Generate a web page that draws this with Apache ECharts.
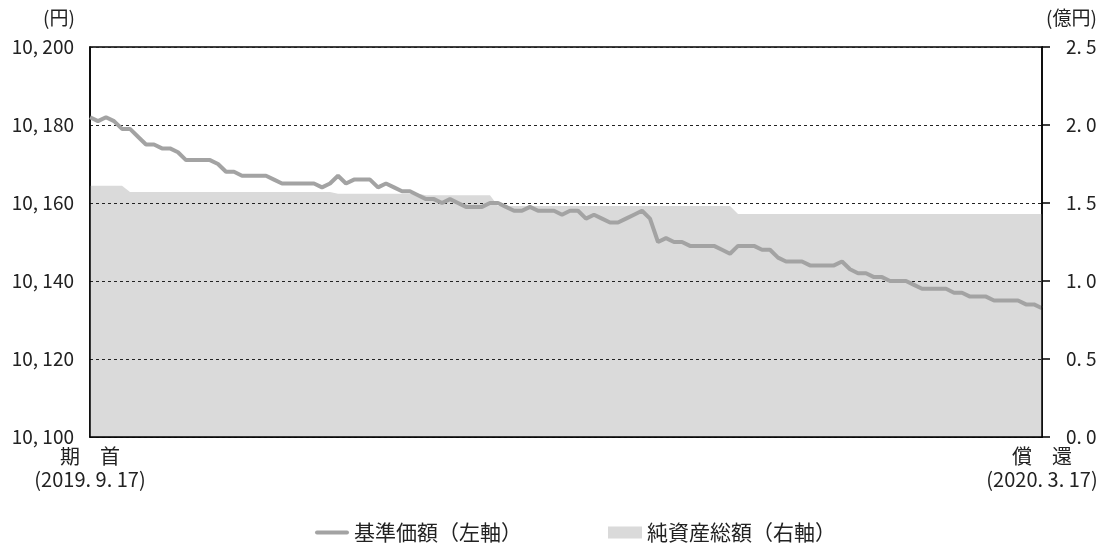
<!DOCTYPE html>
<html>
<head>
<meta charset="utf-8">
<script src="https://cdn.jsdelivr.net/npm/echarts@6/dist/echarts.min.js"></script>
<style>
  html, body { margin: 0; padding: 0; background: #fff; }
  #myChart { width: 1104px; height: 543px; }
</style>
</head>
<body>
<div id="myChart"></div>
<script>
// 基準価額 (円), daily
var nav = [
  10182, 10181, 10182, 10181, 10179, 10179, 10177, 10175, 10175, 10174,
  10174, 10173, 10171, 10171, 10171, 10171, 10170, 10168, 10168, 10167,
  10167, 10167, 10167, 10166, 10165, 10165, 10165, 10165, 10165, 10164,
  10165, 10167, 10165, 10166, 10166, 10166, 10164, 10165, 10164, 10163,
  10163, 10162, 10161, 10161, 10160, 10161, 10160, 10159, 10159, 10159,
  10160, 10160, 10159, 10158, 10158, 10159, 10158, 10158, 10158, 10157,
  10158, 10158, 10156, 10157, 10156, 10155, 10155, 10156, 10157, 10158,
  10156, 10150, 10151, 10150, 10150, 10149, 10149, 10149, 10149, 10148,
  10147, 10149, 10149, 10149, 10148, 10148, 10146, 10145, 10145, 10145,
  10144, 10144, 10144, 10144, 10145, 10143, 10142, 10142, 10141, 10141,
  10140, 10140, 10140, 10139, 10138, 10138, 10138, 10138, 10137, 10137,
  10136, 10136, 10136, 10135, 10135, 10135, 10135, 10134, 10134, 10133
];

// 純資産総額 (億円), daily
var netAssets = [
  1.61, 1.61, 1.61, 1.61, 1.61, 1.57, 1.57, 1.57, 1.57, 1.57,
  1.57, 1.57, 1.57, 1.57, 1.57, 1.57, 1.57, 1.57, 1.57, 1.57,
  1.57, 1.57, 1.57, 1.57, 1.57, 1.57, 1.57, 1.57, 1.57, 1.57,
  1.57, 1.56, 1.56, 1.56, 1.56, 1.56, 1.56, 1.56, 1.56, 1.56,
  1.56, 1.56, 1.55, 1.55, 1.55, 1.55, 1.55, 1.55, 1.55, 1.55,
  1.55, 1.48, 1.48, 1.48, 1.48, 1.48, 1.48, 1.48, 1.48, 1.48,
  1.48, 1.48, 1.48, 1.48, 1.48, 1.48, 1.48, 1.48, 1.48, 1.48,
  1.48, 1.48, 1.48, 1.48, 1.48, 1.48, 1.48, 1.48, 1.48, 1.48,
  1.48, 1.43, 1.43, 1.43, 1.43, 1.43, 1.43, 1.43, 1.43, 1.43,
  1.43, 1.43, 1.43, 1.43, 1.43, 1.43, 1.43, 1.43, 1.43, 1.43,
  1.43, 1.43, 1.43, 1.43, 1.43, 1.43, 1.43, 1.43, 1.43, 1.43,
  1.43, 1.43, 1.43, 1.43, 1.43, 1.43, 1.43, 1.43, 1.43, 1.43
];

var startLabel = "期　首\n(2019. 9. 17)";
var endLabel = "償　還\n(2020. 3. 17)";
var categories = nav.map(function (v, i) { return "d" + i; });
var seriesNames = ["基準価額（左軸）", "純資産総額（右軸）"];

var FONT = '"Noto Sans CJK JP", "Noto Sans", sans-serif';

var chartDom = document.getElementById("myChart");
var myChart = echarts.init(chartDom);
var option;

// tick labels use a spaced comma / point like the original
function fmtYen(v) {
  var s = String(v);
  return s.slice(0, s.length - 3) + ", " + s.slice(-3);
}
function fmtOku(v) {
  return v.toFixed(1).replace(".", ". ");
}

option = {
  animation: false,
  textStyle: { fontFamily: FONT },
  grid: {
    left: 90,
    right: 62,
    top: 47,
    bottom: 106,
    show: true,
    borderColor: "#000",
    borderWidth: 1.5,
    backgroundColor: "#fff",
  },
  legend: {
    top: 517,
    left: 310,
    itemWidth: 34,
    itemHeight: 12,
    itemGap: 86,
    textStyle: { fontFamily: FONT, fontSize: 21, color: "#222" },
    data: [
      {
        name: seriesNames[0],
        icon: "path://M2,0H32A2,2 0 0 1 32,4H2A2,2 0 0 1 2,0Z",
        itemStyle: { color: "#a3a3a3" },
      },
      { name: seriesNames[1], icon: "rect", itemStyle: { color: "#dadada" } },
    ],
  },
  graphic: [
    {
      type: "text",
      left: 43,
      top: 8,
      style: { text: "(円)", font: "19px " + FONT, fill: "#222" },
    },
    {
      type: "text",
      left: 1046,
      top: 8,
      style: { text: "(億円)", font: "19px " + FONT, fill: "#222" },
    },
  ],
  xAxis: {
    type: "category",
    data: categories,
    boundaryGap: false,
    z: 4,
    axisLine: { lineStyle: { color: "#000", width: 1.5 } },
    axisTick: { show: false },
    splitLine: { show: false },
    axisLabel: {
      interval: function (i) { return i === 0 || i === categories.length - 1; },
      formatter: function (v, i) {
        return i === 0 ? startLabel : endLabel;
      },
      margin: 8,
      fontSize: 20,
      lineHeight: 23,
      color: "#222",
      align: "center",
    },
  },
  yAxis: [
    {
      type: "value",
      min: 10100,
      max: 10200,
      interval: 20,
      z: 2,
      axisLine: { show: true, lineStyle: { color: "#000", width: 1.5 } },
      axisTick: { show: false },
      axisLabel: { margin: 16, fontSize: 19, color: "#222", formatter: fmtYen },
      splitLine: { lineStyle: { color: "#222", width: 1, type: [3, 3] } },
    },
    {
      type: "value",
      min: 0,
      max: 2.5,
      interval: 0.5,
      z: 4,
      axisLine: { show: true, lineStyle: { color: "#000", width: 1.5 } },
      axisTick: { show: true, inside: false, length: 8, lineStyle: { color: "#000", width: 1.5 } },
      axisLabel: { margin: 24, fontSize: 19, color: "#222", formatter: fmtOku },
      splitLine: { show: false },
    },
  ],
  series: [
    {
      name: seriesNames[1],
      type: "line",
      yAxisIndex: 1,
      data: netAssets,
      symbol: "none",
      z: 1,
      lineStyle: { width: 0 },
      itemStyle: { color: "#dadada" },
      areaStyle: { color: "#dadada", opacity: 1 },
    },
    {
      name: seriesNames[0],
      type: "line",
      yAxisIndex: 0,
      data: nav,
      symbol: "none",
      z: 3,
      lineStyle: { color: "#a3a3a3", width: 4 },
      itemStyle: { color: "#a3a3a3" },
    },
  ],
};

option && myChart.setOption(option);
</script>
</body>
</html>
